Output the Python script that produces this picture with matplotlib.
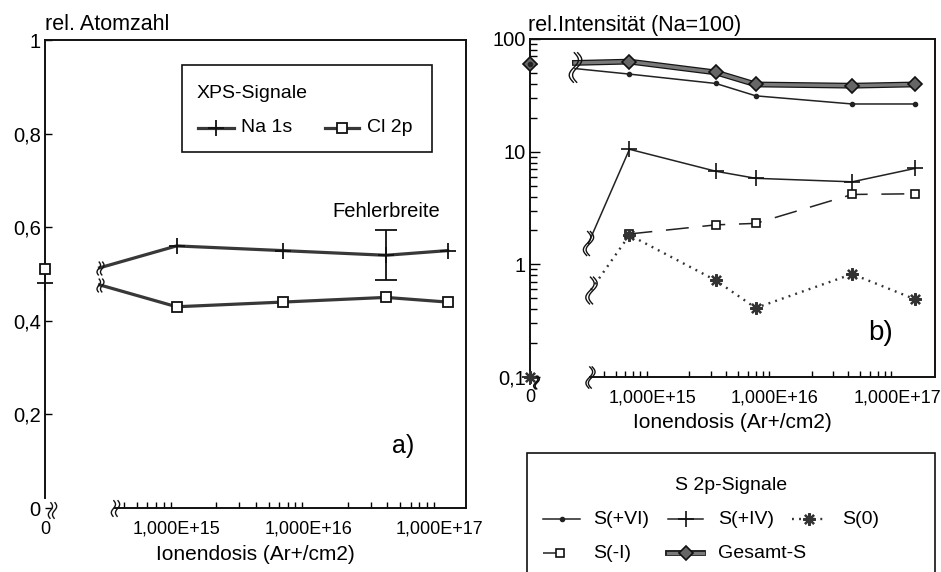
import numpy as np
import matplotlib
matplotlib.use("Agg")
import matplotlib.pyplot as plt
from matplotlib.path import Path
from matplotlib.lines import Line2D
from matplotlib.patches import Rectangle
from matplotlib.ticker import FixedLocator, FixedFormatter, NullFormatter, LogLocator
import matplotlib.transforms as mtransforms
import matplotlib.patheffects as pe

plt.rcParams['font.family'] = ['Liberation Sans', 'DejaVu Sans']

W, H = 941, 572

# ---------------- a) relative atom numbers ----------------
dose_a = [0, 1.0e15, 6.4e15, 3.9e16, 1.15e17]
na_1s = [0.48, 0.56, 0.55, 0.54, 0.55]
cl_2p = [0.51, 0.43, 0.44, 0.45, 0.44]
err_dose = 3.9e16
err_value = 0.54
err_half = 0.053

# ---------------- b) S 2p intensities (Na = 100) ----------------
dose_b = [0, 6.5e14, 3.3e15, 7.0e15, 4.3e16, 1.4e17]
s_plus6 = [60, 48.8, 40.3, 31.3, 26.5, 26.5]
s_plus4 = [0.1, 10.5, 6.7, 5.8, 5.4, 7.1]
s_zero = [0.1, 1.82, 0.72, 0.41, 0.82, 0.49]
s_minus1 = [np.nan, 1.86, 2.24, 2.31, 4.17, 4.23]
gesamt_s = [60, 63, 50.5, 39.5, 38.5, 39.5]

x_labels = ['0', '1,000E+15', '1,000E+16', '1,000E+17']
x_label_pos = [0, 1e15, 1e16, 1e17]

ZERO_POS = 14.0  # position of dose 0 on the broken log axis (in decades)


def fwd(d):
    d = np.asarray(d, float)
    safe = np.where(d > 0, d, 1.0)
    return np.where(d > 0, np.log10(safe), ZERO_POS)


def inv(p):
    p = np.asarray(p, float)
    return np.where(p > ZERO_POS, 10.0 ** p, 0.0)


def squiggle(n=2, sep=0.45, amp=0.22):
    t = np.linspace(-1, 1, 40)
    verts, codes = [], []
    for k in range(n):
        off = (k - (n - 1) / 2) * sep
        xs = off + amp * np.sin(np.pi * t)
        for i, (x, y) in enumerate(zip(xs, t)):
            verts.append((x, y))
            codes.append(Path.MOVETO if i == 0 else Path.LINETO)
    return Path(verts, codes)


SQ2 = squiggle(2, 0.5, 0.25)
SQ1 = squiggle(2, 0.22, 0.3)


def break_point(ax, x0, y0, x1, y1, xb):
    tx = ax.xaxis.get_transform()
    ty = ax.yaxis.get_transform()
    sx = tx.transform(np.reshape([x0, x1, xb], (-1, 1))).ravel()
    sy = ty.transform(np.reshape([y0, y1], (-1, 1))).ravel()
    t = (sx[2] - sx[0]) / (sx[1] - sx[0])
    syb = sy[0] + t * (sy[1] - sy[0])
    yb = ty.inverted().transform(np.array([[syb]])).ravel()[0]
    return yb


def series(ax, dose, vals, xb, line_kw, mark_kw, brk_size=None, brk_path=SQ2,
           connect=True):
    dose = list(dose)
    vals = list(vals)
    xs, ys = dose[1:], vals[1:]
    if connect and not np.isnan(vals[0]):
        yb = break_point(ax, dose[0], vals[0], dose[1], vals[1], xb)
        xs = [xb] + xs
        ys = [yb] + ys
        if brk_size:
            ax.plot([xb], [yb], ls='none', marker=brk_path, ms=brk_size,
                    mfc='none', mec='#111', mew=1.0, zorder=6, clip_on=False)
    ax.plot(xs, ys, **line_kw)
    ax.plot(dose, vals, ls='none', clip_on=False, zorder=5, **mark_kw)


def setup_xaxis(ax, xmax, ticks_from):
    ax.set_xscale('function', functions=(fwd, inv))
    ax.set_xlim(0, xmax)
    ax.xaxis.set_major_locator(FixedLocator(x_label_pos))
    ax.xaxis.set_major_formatter(FixedFormatter(x_labels))
    minor = [k * 10.0 ** n for n in (14, 15, 16) for k in range(1, 10)]
    minor = [m for m in minor if ticks_from <= m <= 1e17] + [1e17]
    ax.xaxis.set_minor_locator(FixedLocator(minor))
    ax.xaxis.set_minor_formatter(NullFormatter())
    ax.tick_params(axis='x', which='major', length=0, pad=9, labelsize=13)
    ax.tick_params(axis='x', which='minor', direction='in', length=4.5, width=1.0)


fig = plt.figure(figsize=(W / 100, H / 100), dpi=100)
axA = fig.add_axes([45 / W, 1 - 508 / H, 421 / W, 468 / H])
axB = fig.add_axes([530 / W, 1 - 377 / H, 405 / W, 338 / H])

for ax in (axA, axB):
    for sp in ax.spines.values():
        sp.set_linewidth(1.4)
        sp.set_color('#111')

# ---------------- panel a ----------------
setup_xaxis(axA, 10 ** 17.2, 4e14)
axA.set_ylim(0, 1)
axA.set_yticks([0, 0.2, 0.4, 0.6, 0.8, 1.0])
axA.set_yticklabels(['0', '0,2', '0,4', '0,6', '0,8', '1'])
axA.tick_params(axis='y', direction='in', length=5, width=1.0, pad=3, labelsize=14.5)
axA.spines['bottom'].set_bounds(3.4e14, 10 ** 17.2)
axA.spines['left'].set_bounds(0.022, 1.0)

xb_a = 2.6e14
line_a = dict(color='#383838', lw=2.3, solid_joinstyle='round', zorder=3)
series(axA, dose_a, na_1s, xb_a, line_a,
       dict(marker='+', ms=12, mew=1.3, color='#111'), brk_size=10)
series(axA, dose_a, cl_2p, xb_a, line_a,
       dict(marker='s', ms=6.5, mfc='white', mec='#111', mew=1.3), brk_size=10)

axA.errorbar([err_dose], [err_value], yerr=[err_half], fmt='none',
             ecolor='#111', elinewidth=1.3, capsize=8, capthick=1.3, zorder=4)
axA.text(err_dose, err_value + err_half + 0.04, 'Fehlerbreite', ha='center',
         va='center', fontsize=14.5)
axA.text(0.85, 0.133, 'a)', transform=axA.transAxes, ha='center', va='center',
         fontsize=18)

axA.set_xlabel('Ionendosis (Ar+/cm2)', fontsize=15)
axA.xaxis.set_label_coords(0.5, -0.1)
axA.xaxis.label.set_va('center')

# axis break marks
axA.plot([3.4e14], [0], ls='none', marker=SQ2, ms=12, mfc='none', mec='#111',
         mew=1.0, clip_on=False, zorder=6)
offA = mtransforms.offset_copy(axA.transData, fig=fig, x=7, y=-2, units='dots')
axA.plot([0], [0], ls='none', marker=SQ2, ms=12, mfc='none', mec='#111',
         mew=1.0, clip_on=False, transform=offA, zorder=6)

# ---------------- panel b ----------------
setup_xaxis(axB, 10 ** 17.31, 4e14)
axB.set_yscale('log')
axB.set_ylim(0.1, 100)
axB.yaxis.set_major_locator(FixedLocator([0.1, 1, 10, 100]))
axB.yaxis.set_major_formatter(FixedFormatter(['0,1', '1', '10', '100']))
axB.yaxis.set_minor_locator(LogLocator(base=10, subs=np.arange(2, 10)))
axB.yaxis.set_minor_formatter(NullFormatter())
axB.tick_params(axis='y', which='major', direction='in', length=7, width=1.0,
                pad=3, labelsize=14.5)
axB.tick_params(axis='y', which='minor', direction='in', length=5, width=1.0)
axB.spines['bottom'].set_bounds(3.1e14, 10 ** 17.31)

xb_top = 2.33e14
xb_low = 3.0e14
series(axB, dose_b, gesamt_s, xb_top,
       dict(color='#7a7a7a', lw=2.4, zorder=4,
            path_effects=[pe.Stroke(linewidth=4.2, foreground='#151515'), pe.Normal()]),
       dict(marker='D', ms=7, mfc='#666', mec='#111', mew=1.2), brk_size=None)
series(axB, dose_b, s_plus6, xb_top,
       dict(color='#222', lw=1.1, zorder=3),
       dict(marker='o', ms=3, mfc='#222', mec='#222'), brk_size=None)
# one tall break mark spanning the two upper curves
yb_top = break_point(axB, dose_b[0], gesamt_s[0], dose_b[1], gesamt_s[1], xb_top)
axB.plot([xb_top], [yb_top * 0.92], ls='none', marker=SQ1, ms=22, mfc='none',
         mec='#111', mew=1.0, clip_on=False, zorder=6)

series(axB, dose_b, s_plus4, xb_low,
       dict(color='#222', lw=1.1, zorder=3),
       dict(marker='+', ms=12, mew=1.2, color='#111'), brk_size=18, brk_path=SQ1)
series(axB, dose_b, s_minus1, xb_low,
       dict(color='#222', lw=1.1, dashes=(15, 9), zorder=3),
       dict(marker='s', ms=6, mfc='white', mec='#111', mew=1.2), connect=False)
series(axB, dose_b, s_zero, 3.15e14,
       dict(color='#333', lw=1.7, dashes=(0.8, 2.2), zorder=3),
       dict(marker=(8, 2, 0), ms=9, mew=1.6, color='#333'), brk_size=20, brk_path=SQ1)

axB.text(0.865, 0.13, 'b)', transform=axB.transAxes, ha='center', va='center',
         fontsize=20)
axB.set_xlabel('Ionendosis (Ar+/cm2)', fontsize=15)
axB.xaxis.set_label_coords(0.5, -0.136)
axB.xaxis.label.set_va('center')

axB.plot([3.1e14], [0.1], ls='none', marker=SQ1, ms=16, mfc='none', mec='#111',
         mew=1.0, clip_on=False, zorder=6)
offB = mtransforms.offset_copy(axB.transData, fig=fig, x=6, y=-5, units='dots')
axB.plot([0], [0.1], ls='none', marker=SQ1, ms=10, mfc='none', mec='#111',
         mew=1.0, clip_on=False, transform=offB, zorder=6)

# ---------------- titles ----------------
fig.text(45 / W, 1 - 25 / H, 'rel. Atomzahl', ha='left', va='center', fontsize=15.5)
fig.text(528 / W, 1 - 25 / H, 'rel.Intensität (Na=100)', ha='left', va='center',
         fontsize=15.5)


# ---------------- legends (pixel layout) ----------------
def fx(x):
    return x / W


def fy(y):
    return 1 - y / H


def handle(x0, x1, y, line_kw, mark_kw):
    fig.add_artist(Line2D([fx(x0), fx(x1)], [fy(y), fy(y)],
                          transform=fig.transFigure, **line_kw))
    fig.add_artist(Line2D([fx((x0 + x1) / 2)], [fy(y)], ls='none',
                          transform=fig.transFigure, **mark_kw))


fig.add_artist(Rectangle((fx(182), fy(152)), fx(432) - fx(182), fy(65) - fy(152),
                         transform=fig.transFigure, fill=False, lw=1.2,
                         ec='#111'))
fig.text(fx(197), fy(93), 'XPS-Signale', ha='left', va='center', fontsize=14)
handle(198, 234, 128, dict(color='#383838', lw=2.3),
       dict(marker='+', ms=12, mew=1.3, color='#111'))
fig.text(fx(241), fy(128), 'Na 1s', ha='left', va='center', fontsize=14)
handle(325, 359, 128, dict(color='#383838', lw=2.3),
       dict(marker='s', ms=6.5, mfc='white', mec='#111', mew=1.3))
fig.text(fx(367), fy(128), 'Cl 2p', ha='left', va='center', fontsize=14)

fig.add_artist(Rectangle((fx(527), fy(600)), fx(935) - fx(527), fy(453) - fy(600),
                         transform=fig.transFigure, fill=False, lw=1.2,
                         ec='#111', clip_on=False))
fig.text(fx(731), fy(485), 'S 2p-Signale', ha='center', va='center', fontsize=14)
r1, r2 = 519, 553
handle(543, 580, r1, dict(color='#222', lw=1.1),
       dict(marker='o', ms=3, mfc='#222', mec='#222'))
fig.text(fx(593), fy(r1), 'S(+VI)', ha='left', va='center', fontsize=14)
handle(668, 703, r1, dict(color='#222', lw=1.1),
       dict(marker='+', ms=12, mew=1.2, color='#111'))
fig.text(fx(718), fy(r1), 'S(+IV)', ha='left', va='center', fontsize=14)
handle(792, 826, r1, dict(color='#333', lw=1.7, dashes=(0.8, 2.2)),
       dict(marker=(8, 2, 0), ms=9, mew=1.6, color='#333'))
fig.text(fx(842), fy(r1), 'S(0)', ha='left', va='center', fontsize=14)
handle(543, 577, r2, dict(color='#222', lw=1.1, dashes=(11, 12, 1.5, 2)),
       dict(marker='s', ms=6, mfc='white', mec='#111', mew=1.2))
fig.text(fx(593), fy(r2), 'S(-I)', ha='left', va='center', fontsize=14)
handle(668, 703, r2, dict(color='#7a7a7a', lw=2.4,
                          path_effects=[pe.Stroke(linewidth=4.2, foreground='#151515'),
                                        pe.Normal()]),
       dict(marker='D', ms=7, mfc='#666', mec='#111', mew=1.2))
fig.text(fx(718), fy(r2), 'Gesamt-S', ha='left', va='center', fontsize=14)

fig.savefig('out.png', dpi=100, facecolor='white')
